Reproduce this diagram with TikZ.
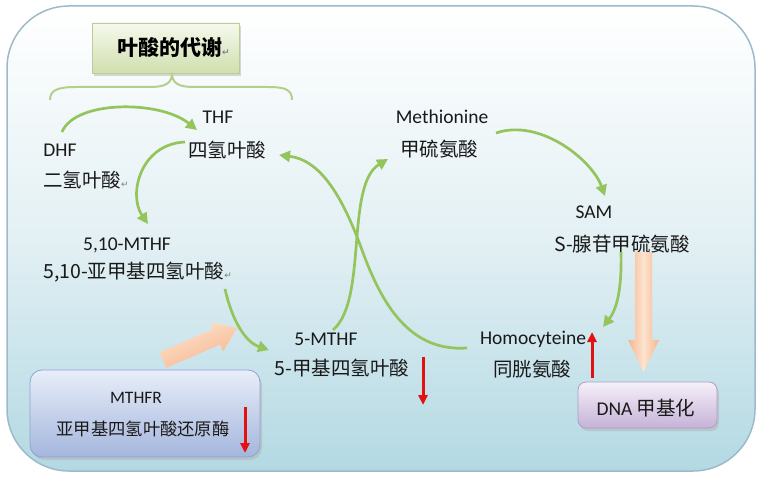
\documentclass[tikz,border=0pt]{standalone}
\usepackage{fontspec}
\setmainfont{Carlito}
\newfontfamily\cjk{Noto Sans CJK SC}
\newfontfamily\symf{DejaVu Sans}
\usetikzlibrary{arrows.meta,shadows,calc}
\definecolor{bgblue}{HTML}{B3D9E3}
\definecolor{bgmid}{HTML}{E3F0F4}
\definecolor{framec}{HTML}{9DBACB}
\definecolor{leaf}{HTML}{94C45C}
\definecolor{bracec}{HTML}{B4CE8C}
\definecolor{peach}{HTML}{F6B58C}
\definecolor{peachl}{HTML}{FDE4D0}
\definecolor{redarr}{HTML}{E31212}
\definecolor{titletop}{HTML}{F6F9EE}
\definecolor{titlebot}{HTML}{D0DFAE}
\definecolor{titledraw}{HTML}{BACD92}
\definecolor{mtop}{HTML}{E8EEF9}
\definecolor{mbot}{HTML}{A4B6DD}
\definecolor{mdraw}{HTML}{8FA3CC}
\definecolor{dtop}{HTML}{F5F0F8}
\definecolor{dbot}{HTML}{C6B2D8}
\definecolor{ddraw}{HTML}{B09CC6}
\newcommand{\retm}{{\symf\color{gray}\fontsize{9}{9}\selectfont ↵}}
\tikzset{
  lat/.style={font=\fontsize{19.5}{22}\selectfont, inner sep=0pt, text=black!90},
  han/.style={font=\cjk\fontsize{19.5}{22}\selectfont, inner sep=0pt, text=black!90},
  flow/.style={draw=leaf, line width=2.7pt, -{Triangle[length=11pt,width=11pt]}},
  redarrow/.style={draw=redarr, line width=3pt, -{Triangle[length=10pt,width=9pt]}},
  boxshadow/.style={drop shadow={shadow xshift=2pt, shadow yshift=-3pt, fill=black!30, opacity=.5}},
}
\begin{document}
\begin{tikzpicture}[x=1pt,y=-1pt]
\useasboundingbox (0,0) rectangle (762,481);
% background panel
\shade[draw=framec, line width=1.5pt, rounded corners=62pt, top color=white, bottom color=bgblue, middle color=bgmid] (7,6) rectangle (755,471);

% title
\node[boxshadow, draw=titledraw, line width=0.8pt, top color=titletop, bottom color=titlebot, minimum width=147pt, minimum height=50pt, inner sep=0pt] (titlebox) at (165.5,48) {};
\node[font=\cjk\bfseries\fontsize{21}{24}\selectfont, inner sep=0pt, anchor=west] (title) at (117,48) {叶酸的代谢\retm};
% brace
\draw[bracec, line width=2pt] (50,100) .. controls (50,90) and (58,87) .. (76,87) -- (150,87) .. controls (166,87) and (172,83) .. (172,73) .. controls (172,83) and (178,87) .. (194,87) -- (268,87) .. controls (286,87) and (292,90) .. (292,100);

% labels
\node[lat] (thf) at (218,117) {THF};
\node[han] (thfc) at (227,150) {四氢叶酸};
\node[lat] (dhf) at (60,150) {DHF};
\node[han, anchor=west] (dhfc) at (43,180) {二氢叶酸\retm};
\node[lat] (mthf10) at (127,245) {5,10-MTHF};
\node[han, anchor=west] (mthf10c) at (43,272) {5,10-亚甲基四氢叶酸\retm};
\node[lat] (mthf5) at (326,339) {5-MTHF};
\node[han] (mthf5c) at (342,368) {5-甲基四氢叶酸};
\node[lat] (met) at (442,117) {Methionine};
\node[han] (metc) at (439,149) {甲硫氨酸};
\node[lat] (sam) at (594,212) {SAM};
\node[han] (samc) at (622,244) {S-腺苷甲硫氨酸};
\node[lat] (hcy) at (533,339) {Homocyteine};
\node[han] (hcyc) at (532,369) {同胱氨酸};

% MTHFR box
\node[boxshadow, draw=mdraw, line width=0.8pt, rounded corners=12pt, top color=mtop, bottom color=mbot, minimum width=230pt, minimum height=87pt, inner sep=0pt] (mthfr) at (145,413.5) {};
\node[lat, font=\fontsize{17.5}{20}\selectfont] (mthfrl) at (136,398) {MTHFR};
\node[han, font=\cjk\fontsize{17.3}{20}\selectfont] (mthfrc) at (143,429) {亚甲基四氢叶酸还原酶};

% DNA box
\node[boxshadow, draw=ddraw, line width=0.8pt, rounded corners=8pt, top color=dtop, bottom color=dbot, minimum width=139pt, minimum height=46pt, inner sep=0pt] (dna) at (647.5,405) {};
\node[inner sep=0pt, text=black!90] (dnal) at (646,408) {\fontsize{19.5}{22}\selectfont DNA {\cjk 甲基化}};

% orange block arrows
\shade[left color=peach, right color=peach, middle color=peachl] (635,252) -- (652,252) -- (652,340) -- (659,340) -- (643.5,372) -- (628,340) -- (635,340) -- cycle;
\shade[top color=peachl, bottom color=peach, shading angle=23] (166.4,367.8) -- (220.2,344.5) -- (223.2,351.4) -- (237,328) -- (210.4,322.0) -- (213.4,328.9) -- (159.6,352.2) -- cycle;

% green flow arrows
\coordinate (a1s) at (62,132); \coordinate (a1e) at (197,130);
\draw[flow] (a1s) .. controls (75,100) and (160,100) .. (a1e);
\coordinate (a2s) at (185,142); \coordinate (a2e) at (148,224);
\draw[flow] (a2s) .. controls (140,144) and (128,195) .. (a2e);
\coordinate (a3s) at (225,289); \coordinate (a3e) at (269,350);
\draw[flow] (a3s) .. controls (232,320) and (245,342) .. (a3e);
\coordinate (a4s) at (333,330); \coordinate (a4e) at (388,159);
\draw[flow] (a4s) .. controls (368,300) and (345,185) .. (a4e);
\coordinate (a5s) at (467,348); \coordinate (a5m) at (362,250); \coordinate (a5e) at (279,155);
\draw[flow] (a5s) .. controls (410,352) and (382,305) .. (a5m) .. controls (342,195) and (320,160) .. (a5e);
\coordinate (a6s) at (496,133); \coordinate (a6e) at (605,196);
\draw[flow] (a6s) .. controls (540,118) and (592,160) .. (a6e);
\coordinate (a7s) at (621,252); \coordinate (a7e) at (603,327);
\draw[flow] (a7s) .. controls (622,292) and (616,310) .. (a7e);

% red arrows
\coordinate (r1s) at (245,407); \coordinate (r1e) at (245,453);
\draw[redarrow] (r1s) -- (r1e);
\coordinate (r2s) at (423,357); \coordinate (r2e) at (423,405);
\draw[redarrow] (r2s) -- (r2e);
\coordinate (r3s) at (592,378); \coordinate (r3e) at (592,332);
\draw[redarrow] (r3s) -- (r3e);
\end{tikzpicture}
\end{document}
